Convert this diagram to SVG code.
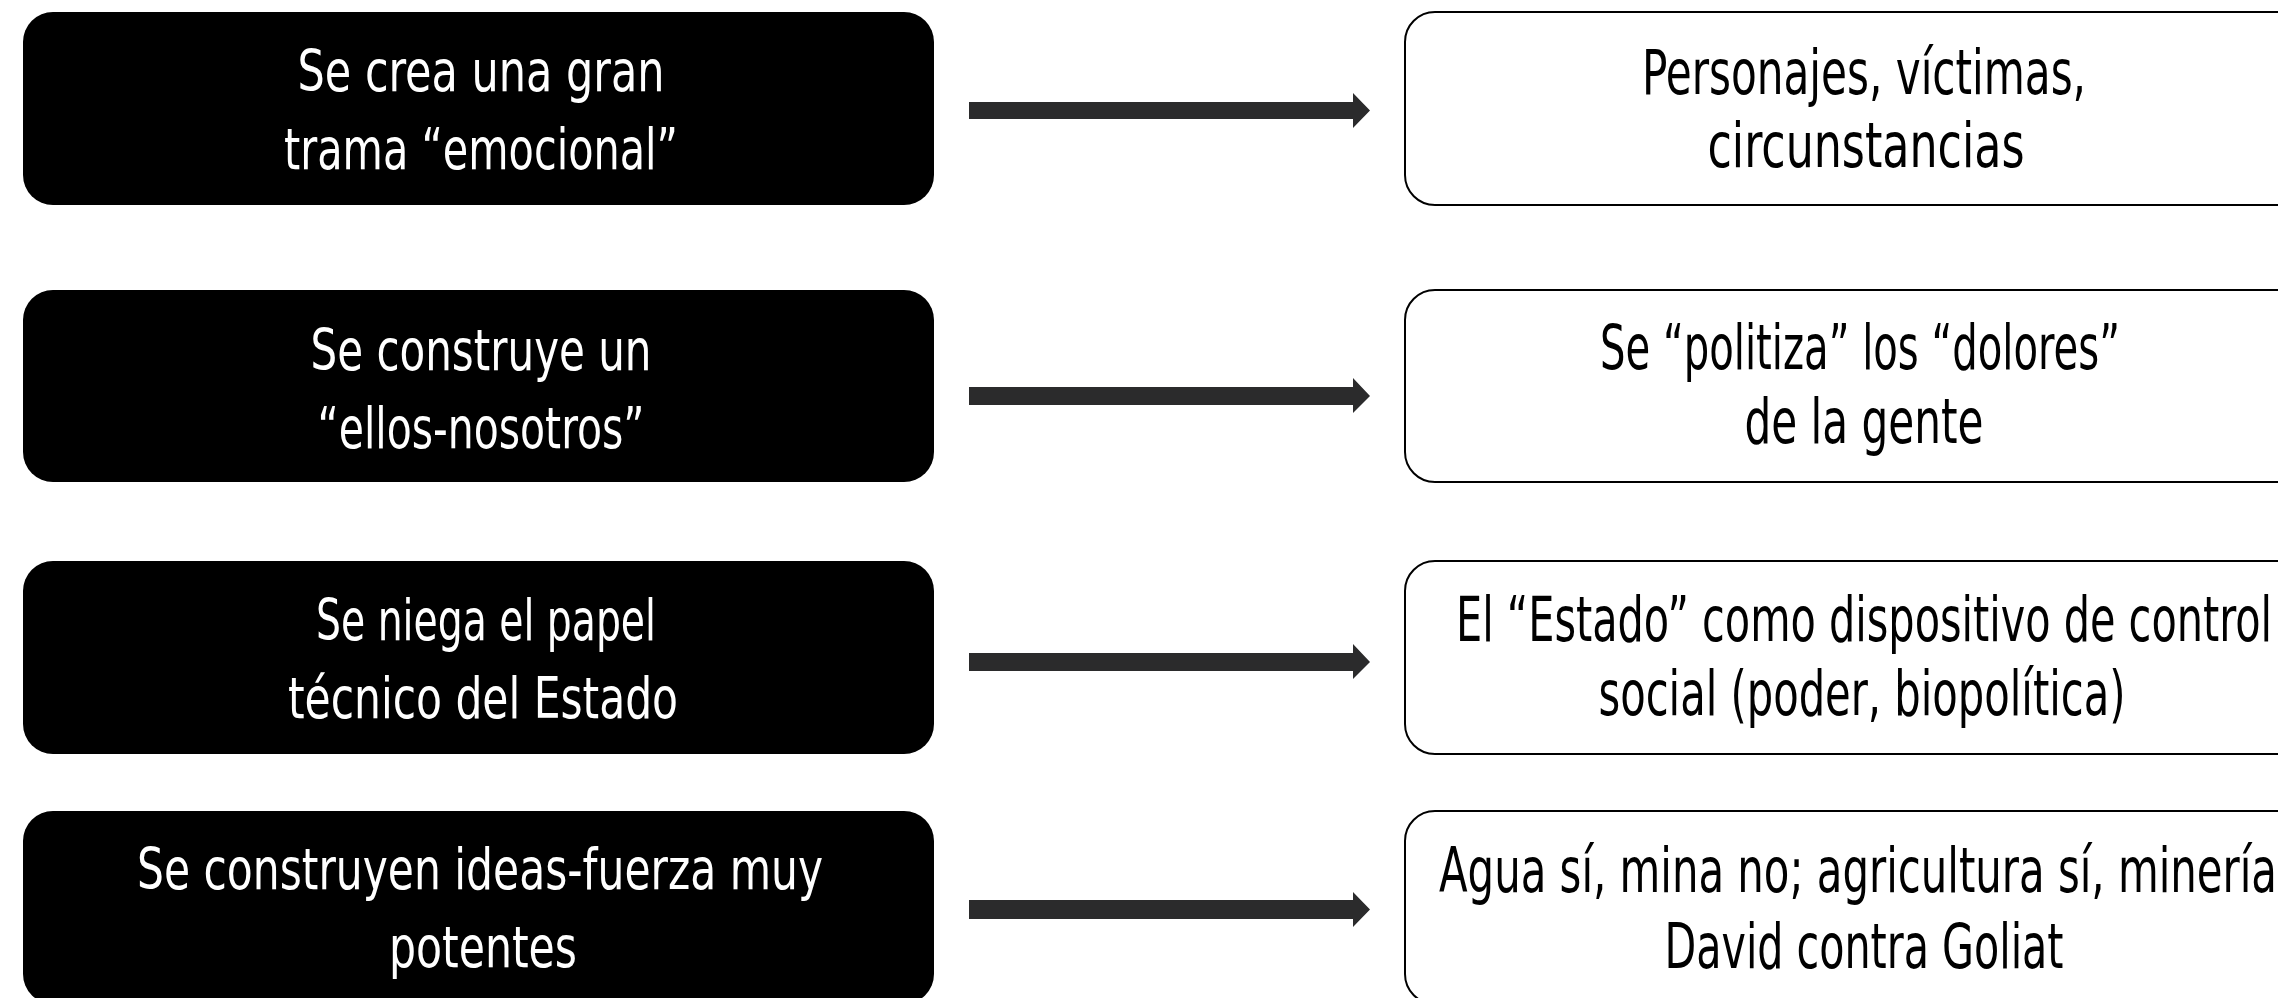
<svg xmlns="http://www.w3.org/2000/svg" width="2278" height="998" viewBox="0 0 2278 998">
<style>
.lbox{fill:#000000;}
.rbox{fill:#ffffff;stroke:#000000;stroke-width:2;}
.lt{fill:#ffffff;font-family:"Liberation Sans Narrow","DejaVu Sans Condensed","Liberation Sans",sans-serif;font-size:57px;text-anchor:middle;}
.rt{fill:#000000;font-family:"Liberation Sans Narrow","DejaVu Sans Condensed","Liberation Sans",sans-serif;font-size:62px;text-anchor:middle;}
.arr{fill:#2b2b2c;}
</style>
<rect width="2278" height="998" fill="#ffffff"/>
<g id="connectors">
<polygon class="arr" points="969,102 1353,102 1353,93 1370,110.5 1353,128 1353,119 969,119"/>
<polygon class="arr" points="969,387 1353,387 1353,378 1370,396 1353,413 1353,405 969,405"/>
<polygon class="arr" points="969,653 1353,653 1353,644 1370,662 1353,679 1353,671 969,671"/>
<polygon class="arr" points="969,900 1353,900 1353,892 1370,909.5 1353,927 1353,919 969,919"/>
</g>
<g id="left1">
<rect class="lbox" x="23" y="12" width="911" height="193" rx="30"/>
<text class="lt" x="481" y="91" textLength="367" lengthAdjust="spacingAndGlyphs">Se crea una gran</text>
<text class="lt" x="481" y="169" textLength="394" lengthAdjust="spacingAndGlyphs">trama “emocional”</text>
</g>
<g id="left2">
<rect class="lbox" x="23" y="290" width="911" height="192" rx="30"/>
<text class="lt" x="481" y="370" textLength="341" lengthAdjust="spacingAndGlyphs">Se construye un</text>
<text class="lt" x="481" y="448" textLength="327" lengthAdjust="spacingAndGlyphs">“ellos-nosotros”</text>
</g>
<g id="left3">
<rect class="lbox" x="23" y="561" width="911" height="193" rx="30"/>
<text class="lt" x="486" y="640" textLength="340" lengthAdjust="spacingAndGlyphs">Se niega el papel</text>
<text class="lt" x="483" y="718" textLength="390" lengthAdjust="spacingAndGlyphs">técnico del Estado</text>
</g>
<g id="left4">
<rect class="lbox" x="23" y="811" width="911" height="193" rx="30"/>
<text class="lt" x="480" y="889" textLength="686" lengthAdjust="spacingAndGlyphs">Se construyen ideas-fuerza muy</text>
<text class="lt" x="483" y="967" textLength="188" lengthAdjust="spacingAndGlyphs">potentes</text>
</g>
<g id="right1">
<rect class="rbox" x="1405" y="12" width="918" height="193" rx="30"/>
<text class="rt" x="1864" y="94" textLength="444" lengthAdjust="spacingAndGlyphs">Personajes, víctimas,</text>
<text class="rt" x="1866" y="167" textLength="317" lengthAdjust="spacingAndGlyphs">circunstancias</text>
</g>
<g id="right2">
<rect class="rbox" x="1405" y="290" width="918" height="192" rx="30"/>
<text class="rt" x="1860" y="369" textLength="520" lengthAdjust="spacingAndGlyphs">Se “politiza” los “dolores”</text>
<text class="rt" x="1864" y="443" textLength="239" lengthAdjust="spacingAndGlyphs">de la gente</text>
</g>
<g id="right3">
<rect class="rbox" x="1405" y="561" width="918" height="193" rx="30"/>
<text class="rt" x="1864" y="641" textLength="816" lengthAdjust="spacingAndGlyphs">El “Estado” como dispositivo de control</text>
<text class="rt" x="1862" y="715" textLength="527" lengthAdjust="spacingAndGlyphs">social (poder, biopolítica)</text>
</g>
<g id="right4">
<rect class="rbox" x="1405" y="811" width="918" height="193" rx="30"/>
<text class="rt" x="1858" y="892" textLength="838" lengthAdjust="spacingAndGlyphs">Agua sí, mina no; agricultura sí, minería</text>
<text class="rt" x="1864" y="968" textLength="399" lengthAdjust="spacingAndGlyphs">David contra Goliat</text>
</g>
</svg>
